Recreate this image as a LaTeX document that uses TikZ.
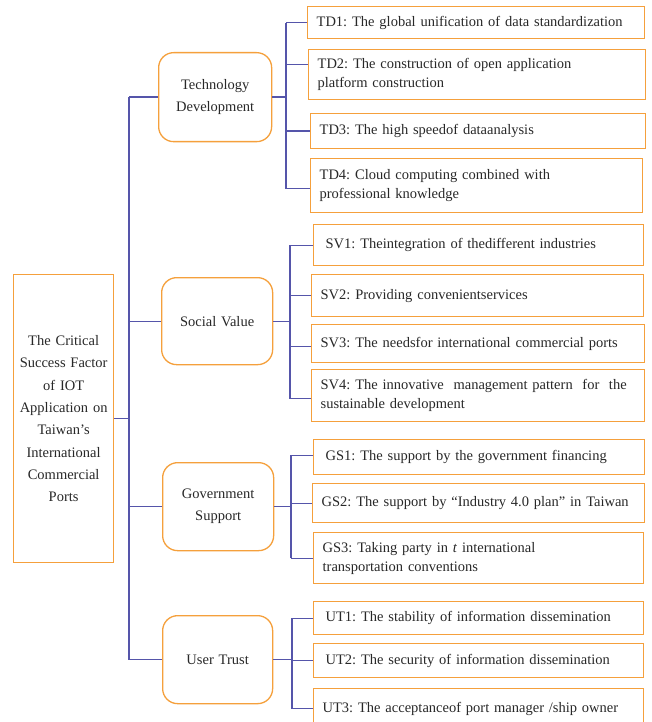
\documentclass[tikz,border=0pt]{standalone}
\usepackage{fontspec}
\setmainfont{Liberation Serif}
\frenchspacing
\definecolor{boxorange}{RGB}{245,160,60}
\definecolor{linkblue}{RGB}{85,85,170}
\definecolor{txt}{RGB}{40,40,40}
\tikzset{
  itembox/.style={draw=boxorange, line width=1.3pt, anchor=north west, align=left,
    inner xsep=9pt, inner ysep=0pt, font=\fontsize{14.5}{19}\selectfont, text=txt},
  catbox/.style={draw=boxorange, line width=1.3pt, rounded corners=15pt, anchor=north west,
    align=center, inner sep=0pt, font=\fontsize{14.5}{22}\selectfont, text=txt},
  rootbox/.style={draw=boxorange, line width=1.3pt, anchor=north west, align=center,
    inner sep=0pt, font=\fontsize{14.5}{22.3}\selectfont, text=txt},
  link/.style={draw=linkblue, line width=1.3pt},
}
\newcommand{\itm}[6]{% name, x, y, w, h, text
  \node[itembox, minimum width=#4pt, minimum height=#5pt, text width=#4pt-18pt] (#1) at (#2,-#3) {#6};}
\begin{document}
\begin{tikzpicture}[x=1pt,y=1pt]
\useasboundingbox (0,0) rectangle (651,-722);
\fill[white] (0,0) rectangle (651,-722);

% root
\node[rootbox, minimum width=100pt, minimum height=288pt, text width=98pt] (root) at (13,-274)
  {The Critical\\ Success Factor\\ of IOT\\ Application on\\ Taiwan's\\ International\\ Commercial\\ Ports};

% categories
\node[catbox, minimum width=113pt, minimum height=89pt, text width=110pt] (td) at (158,-52) {Technology\\ Development};
\node[catbox, minimum width=111pt, minimum height=87pt, text width=108pt] (sv) at (161,-277) {Social Value};
\node[catbox, minimum width=111pt, minimum height=88pt, text width=108pt] (gs) at (162,-462) {Government\\ Support};
\node[catbox, minimum width=110pt, minimum height=88pt, text width=107pt] (ut) at (162,-615) {User Trust};

% items TD
\itm{td1}{307}{6}{337}{32}{TD1: The global unification of data standardization}
\itm{td2}{308}{49}{337}{50}{TD2: The construction of open application\\ platform construction}
\itm{td3}{310}{113}{335}{35}{TD3: The high speedof dataanalysis}
\itm{td4}{310}{158}{332}{54}{TD4: Cloud computing combined with\\ professional knowledge}
% items SV
\itm{sv1}{313}{224}{330}{41}{\hspace*{3pt}SV1: Theintegration of thedifferent industries}
\itm{sv2}{311}{274}{332}{42}{SV2: Providing convenientservices}
\itm{sv3}{311}{324}{333}{38}{SV3: The needsfor international commercial ports}
\itm{sv4}{311}{369}{333}{52}{SV4: The innovative\ \ management pattern\ \ for\ \ the\\ sustainable development}
% items GS
\itm{gs1}{313}{439}{331}{35}{\hspace*{3pt}GS1: The support by the government financing}
\itm{gs2}{312}{483}{332}{39}{GS2: The support by ``Industry 4.0 plan'' in Taiwan}
\itm{gs3}{313}{532}{330}{51}{GS3: Taking party in \textit{t} international\\ transportation conventions}
% items UT
\itm{ut1}{313}{601}{330}{33}{\hspace*{3pt}UT1: The stability of information dissemination}
\itm{ut2}{313}{643}{330}{34}{\hspace*{3pt}UT2: The security of information dissemination}
\itm{ut3}{313}{688}{330}{40}{UT3: The acceptanceof port manager /ship owner}

% bar coordinates
\coordinate (trunk) at (129,0);
\coordinate (tdbar) at (286,0);
\coordinate (svbar) at (290,0);
\coordinate (gsbar) at (291,0);
\coordinate (utbar) at (292,0);

% trunk
\draw[link] (root.east) -- (root.east -| trunk);
\draw[link] (td.west -| trunk) -- (ut.west -| trunk);
\foreach \c in {td,sv,gs,ut} \draw[link] (\c.west -| trunk) -- (\c.west);

% TD branch
\draw[link] (td.east) -- (td.east -| tdbar);
\draw[link] (td1.west -| tdbar) -- ([yshift=-3pt]td4.west -| tdbar);
\draw[link] (td1.west -| tdbar) -- (td1.west);
\draw[link] ([yshift=10pt]td2.west -| tdbar) -- ([yshift=10pt]td2.west);
\draw[link] (td3.west -| tdbar) -- (td3.west);
\draw[link] ([yshift=-3pt]td4.west -| tdbar) -- ([yshift=-3pt]td4.west);

% SV branch
\draw[link] (sv.east) -- (sv.east -| svbar);
\draw[link] (sv1.west -| svbar) -- ([yshift=-3pt]sv4.west -| svbar);
\draw[link] (sv1.west -| svbar) -- (sv1.west);
\draw[link] (sv2.west -| svbar) -- (sv2.west);
\draw[link] ([yshift=-3pt]sv3.west -| svbar) -- ([yshift=-3pt]sv3.west);
\draw[link] ([yshift=-3pt]sv4.west -| svbar) -- ([yshift=-3pt]sv4.west);

% GS branch
\draw[link] (gs.east) -- (gs.east -| gsbar);
\draw[link] ([yshift=2pt]gs1.west -| gsbar) -- (gs3.west -| gsbar);
\draw[link] ([yshift=2pt]gs1.west -| gsbar) -- ([yshift=2pt]gs1.west);
\draw[link] (gs2.west -| gsbar) -- (gs2.west);
\draw[link] (gs3.west -| gsbar) -- (gs3.west);

% UT branch
\draw[link] (ut.east) -- (ut.east -| utbar);
\draw[link] (ut1.west -| utbar) -- (ut3.west -| utbar);
\draw[link] (ut1.west -| utbar) -- (ut1.west);
\draw[link] (ut2.west -| utbar) -- (ut2.west);
\draw[link] (ut3.west -| utbar) -- (ut3.west);
\end{tikzpicture}
\end{document}
